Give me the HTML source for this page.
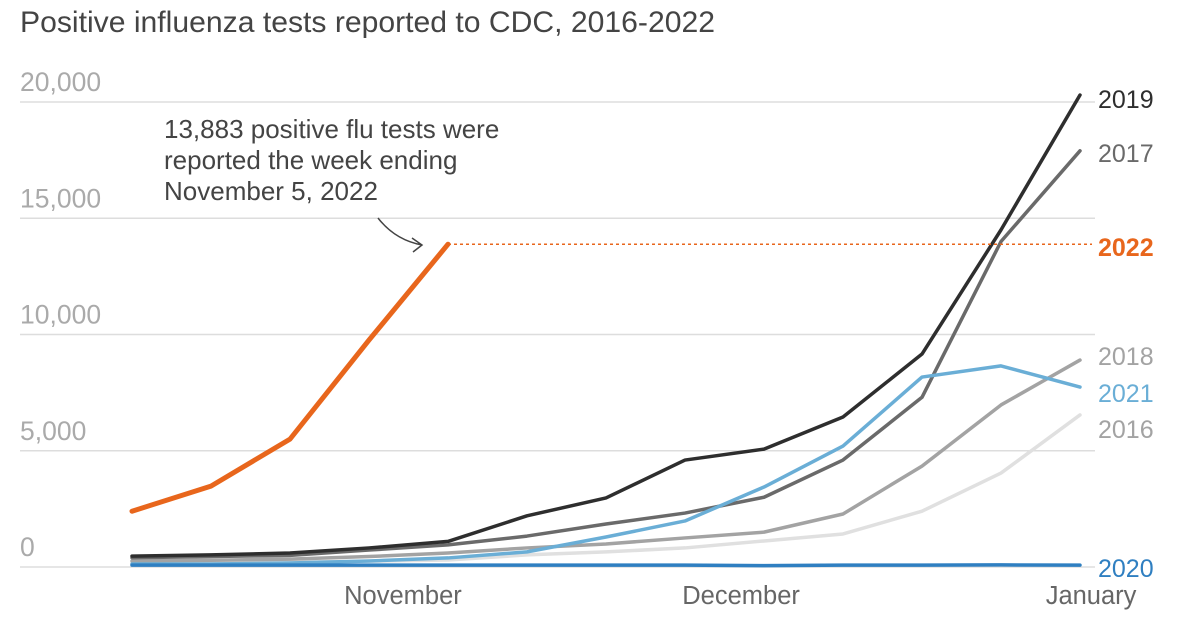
<!DOCTYPE html>
<html><head><meta charset="utf-8"><style>
body{margin:0;background:#fff;font-family:"Liberation Sans",sans-serif;}
svg{display:block}
</style></head><body>
<svg id="chart" width="1198" height="625" viewBox="0 0 1198 625">
<text x="20" y="32" font-size="29.5" fill="#444" textLength="695" lengthAdjust="spacingAndGlyphs">Positive influenza tests reported to CDC, 2016-2022</text>
<g id="grid"></g><g id="lines"></g><g id="labels"></g>
<text font-size="26" fill="#444"><tspan x="164" y="138">13,883 positive flu tests were</tspan><tspan x="164" y="169">reported the week ending</tspan><tspan x="164" y="200">November 5, 2022</tspan></text>
<path d="M378 218 Q395 240 422 245 M412 238 L422 245 L413 252" fill="none" stroke="#444" stroke-width="1.5"/>
</svg>
<script>
const weeks=[0,1,2,3,4,5,6,7,8,9,10,11,12];
const s2022=[2400,3480,5500,9760,13883];
const s2019=[470,520,600,820,1100,2200,2970,4600,5070,6450,9160,14500,20300];
const s2017=[400,450,500,730,950,1330,1850,2320,3000,4600,7300,14000,17900];
const s2021=[130,130,170,260,390,650,1290,1980,3440,5200,8170,8650,7740];
const s2018=[260,290,340,450,600,820,990,1250,1500,2280,4340,6970,8900];
const s2016=[170,190,210,250,300,520,650,820,1120,1420,2400,4040,6540];
const s2020=[80,80,80,80,80,80,80,80,60,80,80,90,80];
const yTicks=[0,5000,10000,15000,20000];
const yTickLabels=["0","5,000","10,000","15,000","20,000"];
const xTicks=[3.43,7.71,12.14];
const xTickLabels=["November","December","January"];
const NS="http://www.w3.org/2000/svg";
const x=i=>132+i*79;
const y=v=>567-v*0.02325;
function mk(tag,attrs,parent){const e=document.createElementNS(NS,tag);for(const k in attrs)e.setAttribute(k,attrs[k]);parent.appendChild(e);return e;}
const grid=document.getElementById('grid'),lines=document.getElementById('lines'),labels=document.getElementById('labels');
yTicks.forEach((t,i)=>{
 const l=mk('line',{x1:20,x2:1095,y1:y(t),y2:y(t),stroke:'#ddd','stroke-width':1.5},grid);
 
 
 const tx=mk('text',{x:20,y:y(t)-11,'font-size':26.5,fill:'#aaa'},grid);
 tx.textContent=yTickLabels[i];
 
 
});
xTicks.forEach((t,i)=>{
 const tx=mk('text',{x:x(t),y:604,'font-size':25.5,fill:'#666','text-anchor':'middle'},grid);
 tx.textContent=xTickLabels[i];
 
 
});
const series=[
 {d:s2016,c:'#e0e0e0',n:'2016',w:3.5},
 {d:s2018,c:'#a3a3a3',n:'2018',w:3.5},
 {d:s2017,c:'#6a6a6a',n:'2017',w:3.5},
 {d:s2021,c:'#6aaed6',n:'2021',w:3.5},
 {d:s2019,c:'#2e2e2e',n:'2019',w:3.5},
 {d:s2020,c:'#2f7fc1',n:'2020',w:3.5},
 {d:s2022,c:'#e8661c',n:'2022',w:5},
];
series.forEach(s=>{
 const p=mk('polyline',{points:s.d.map((v,i)=>x(weeks[i])+','+y(v)).join(' '),fill:'none',stroke:s.c,'stroke-width':s.w,'stroke-linejoin':'round','stroke-linecap':'round'},lines);
 
 
});
const last=s2022[s2022.length-1];
const dl=mk('line',{x1:x(s2022.length-1),x2:1092,y1:y(last),y2:y(last),stroke:'#e8661c','stroke-width':1.5,'stroke-dasharray':'3,3'},lines);


const legend=[['2019',108,'#2e2e2e',''],['2017',162,'#6a6a6a',''],['2022',256,'#e8661c','bold'],['2018',365,'#a3a3a3',''],['2021',402,'#6aaed6',''],['2016',438,'#a3a3a3',''],['2020',577,'#2f7fc1','']];
legend.forEach(l=>{
 const t=mk('text',{x:1098,y:l[1],'font-size':25,fill:l[2],'font-weight':l[3]||'normal'},labels);
 t.textContent=l[0];
 
 
});
</script>
</body></html>
